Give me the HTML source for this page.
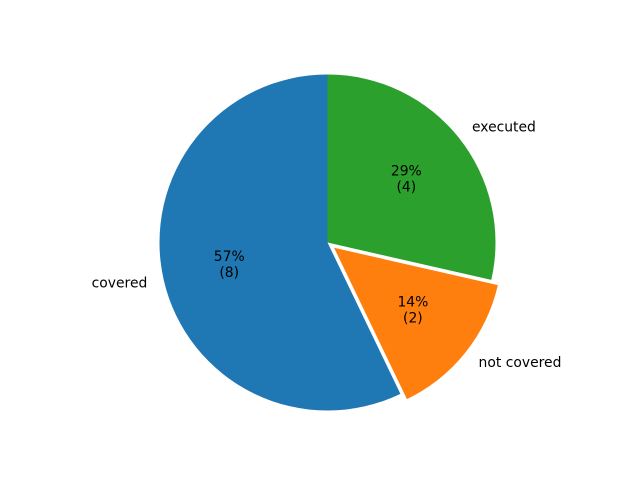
<!DOCTYPE html>
<html><head><meta charset="utf-8"><style>body{margin:0;background:#fff}svg{display:block}text{font-family:"DejaVu Sans",sans-serif;font-size:13.9px;fill:#000}</style></head>
<body>
<svg id="chart" width="640" height="480"></svg>
<script>
const categories = ["covered", "not covered", "executed"];
const values = [8, 2, 4];
const colors = ["#1f77b4", "#ff7f0e", "#2ca02c"];
const explode = [0, 0.05, 0];
const svg = document.getElementById('chart');
const NS = 'http://www.w3.org/2000/svg';
const cx = 327.5, cy = 242.5, R = 168;
const total = values.reduce((a, b) => a + b, 0);
let start = 90;
function pt(a, r, ox, oy) { const t = a * Math.PI / 180; return [ox + r * Math.cos(t), oy - r * Math.sin(t)]; }
values.forEach((v, i) => {
  const sweep = v / total * 360, end = start + sweep, mid = start + sweep / 2;
  const [ox, oy] = pt(mid, explode[i] * R, cx, cy);
  const [x1, y1] = pt(start, R, ox, oy), [x2, y2] = pt(end, R, ox, oy);
  const p = document.createElementNS(NS, 'path');
  p.setAttribute('d', `M${ox},${oy} L${x1},${y1} A${R},${R} 0 ${sweep > 180 ? 1 : 0} 0 ${x2},${y2} Z`);
  p.setAttribute('fill', colors[i]);
  
  
  svg.appendChild(p);
  const [lx, ly] = pt(mid, 1.1 * R, ox, oy);
  const l = document.createElementNS(NS, 'text');
  l.setAttribute('x', lx); l.setAttribute('y', ly + 4);
  l.setAttribute('text-anchor', lx < cx ? 'end' : 'start');
  l.textContent = categories[i];
  
  
  svg.appendChild(l);
  const [px, py] = pt(mid, 0.6 * R, ox, oy);
  const t = document.createElementNS(NS, 'text');
  t.setAttribute('text-anchor', 'middle');
  
  
  const a = document.createElementNS(NS, 'tspan'); a.setAttribute('x', px); a.setAttribute('y', py - 4);
  a.textContent = Math.round(v / total * 100) + '%';
  const b = document.createElementNS(NS, 'tspan'); b.setAttribute('x', px); b.setAttribute('y', py + 12);
  b.textContent = '(' + v + ')';
  t.appendChild(a); t.appendChild(b); svg.appendChild(t);
  start = end;
});
</script>
</body></html>
